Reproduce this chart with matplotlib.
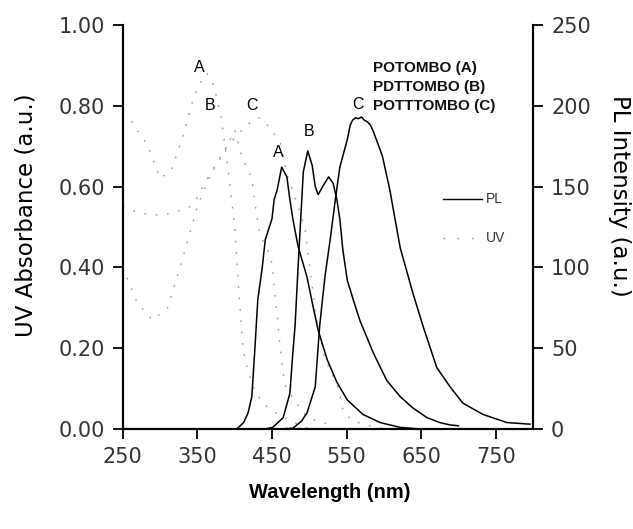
import matplotlib
matplotlib.use("Agg")
import matplotlib.pyplot as plt
from matplotlib.lines import Line2D

plt.rcParams["font.family"] = ["DejaVu Sans"]

# PL spectra (wavelength nm, intensity a.u.)
pl_a_wl = [400, 404, 412, 418, 423, 427, 431, 437, 441, 450, 453, 457, 463, 470, 474, 478,
           485, 497, 505, 512, 524, 537, 551, 572, 595, 622, 650]
pl_a = [0, 0.5, 4, 10, 20, 49, 80, 100, 117, 130, 142, 148, 162, 156, 142, 130,
        113, 94, 76, 61, 43, 29, 18, 9, 4, 1, 0]

pl_b_wl = [440, 451, 465, 474, 478, 481, 485, 490, 492, 498, 504, 508, 512, 518, 526, 532,
           537, 541, 545, 551, 559, 568, 586, 604, 622, 639, 658, 675, 689, 700]
pl_b = [0, 1, 7, 22, 47, 64, 100, 142, 159, 172, 163, 150, 145, 150, 156, 152,
        142, 130, 111, 92, 80, 67, 47, 30, 20, 13, 7, 4, 2.5, 2]

pl_c_wl = [460, 478, 490, 497, 508, 514, 521, 528, 535, 541, 551, 555, 558, 562, 566, 570,
           574, 578, 582, 586, 598, 608, 622, 639, 653, 671, 689, 706, 733, 765, 796]
pl_c = [0, 0.5, 5, 10, 26, 64, 94, 117, 142, 162, 179, 188, 191, 192.5, 192, 193,
        191, 190, 188, 184, 169, 148, 112, 84, 63, 38, 26, 16, 9, 4, 3]

# UV absorbance (wavelength nm, absorbance a.u.)
uv_a_wl = [250, 262, 284, 300, 315, 330, 345, 355, 363, 372, 382, 392, 400, 405, 411,
           418, 428, 440, 455, 475, 500]
uv_a = [0.78, 0.76, 0.70, 0.62, 0.64, 0.72, 0.82, 0.86, 0.88, 0.85, 0.77, 0.63, 0.50, 0.36, 0.20,
        0.14, 0.09, 0.06, 0.04, 0.02, 0.0]

uv_b_wl = [250, 265, 285, 305, 325, 340, 349, 360, 371, 378, 387, 400, 410, 416, 423, 427,
           434, 445, 450, 457, 461, 467, 477, 488, 497, 510, 530]
uv_b = [0.55, 0.54, 0.53, 0.53, 0.54, 0.55, 0.57, 0.61, 0.64, 0.66, 0.69, 0.74, 0.67, 0.65, 0.62, 0.56,
        0.48, 0.44, 0.41, 0.28, 0.20, 0.11, 0.08, 0.05, 0.03, 0.02, 0.01]

uv_c_wl = [250, 270, 290, 310, 330, 350, 370, 390, 410, 425, 434, 445, 461, 470, 478, 487,
           494, 498, 503, 508, 520, 539, 546, 559, 575, 600]
uv_c = [0.40, 0.31, 0.27, 0.30, 0.42, 0.55, 0.64, 0.70, 0.74, 0.765, 0.77, 0.75, 0.71, 0.63, 0.59, 0.54,
        0.50, 0.44, 0.37, 0.29, 0.18, 0.10, 0.04, 0.02, 0.01, 0.0]

x_ticks = [250, 350, 450, 550, 650, 750]
uv_ticks = [0.0, 0.2, 0.4, 0.6, 0.8, 1.0]
pl_ticks = [0, 50, 100, 150, 200, 250]
names = ["POTOMBO (A)", "PDTTOMBO (B)", "POTTTOMBO (C)"]

tick_col = "#333333"
uv_col = "#9a9a9a"
dot_style = (0, (1.2, 7))

fig = plt.figure(figsize=(6.33, 5.29), dpi=100)
ax = fig.add_axes([0.194, 0.189, 0.648, 0.764])
ax2 = ax.twinx()

for wl, v in [(uv_a_wl, uv_a), (uv_b_wl, uv_b), (uv_c_wl, uv_c)]:
    ax.plot(wl, v, color=uv_col, lw=1.0, linestyle=dot_style)
for wl, v in [(pl_a_wl, pl_a), (pl_b_wl, pl_b), (pl_c_wl, pl_c)]:
    ax2.plot(wl, v, color="black", lw=1.1)

ax.set_xlim(250, 800)
ax.set_ylim(0, 1)
ax2.set_ylim(0, 250)
ax.set_xticks(x_ticks)
ax.set_yticks(uv_ticks)
ax.set_yticklabels([f"{t:.2f}" for t in uv_ticks])
ax2.set_yticks(pl_ticks)

for a in (ax, ax2):
    for s in a.spines.values():
        s.set_linewidth(1.5)
    a.spines["top"].set_visible(False)
    a.tick_params(direction="out", length=7, width=1.3, labelsize=15,
                  labelcolor=tick_col)
ax.tick_params(axis="x", pad=6)
ax.tick_params(axis="y", pad=6)
ax2.tick_params(axis="y", pad=6)

# axis titles placed in figure pixels
fig.text(330 / 633, 1 - 492 / 529, "Wavelength (nm)", fontsize=14.5, fontweight="bold",
         family="Liberation Sans", ha="center", va="center")
fig.text(26 / 633, 1 - 215 / 529, "UV Absorbance (a.u.)", fontsize=16.5,
         rotation=90, ha="center", va="center")
fig.text(619 / 633, 1 - 196 / 529, "PL Intensity (a.u.)", fontsize=16.5,
         rotation=270, ha="center", va="center")

# curve labels
for lab, x, y in [("A", 353, 0.894), ("B", 367, 0.80), ("C", 423, 0.80)]:
    ax.text(x, y, lab, fontsize=11.5, family="Liberation Sans", ha="center", va="center")
for lab, x, y in [("A", 459, 171), ("B", 500, 184), ("C", 565, 201)]:
    ax2.text(x, y, lab, fontsize=11.5, family="Liberation Sans", ha="center", va="center")

for i, n in enumerate(names):
    ax.text(0.61, 0.894 - i * 0.047, n, transform=ax.transAxes, fontsize=11,
            family="Liberation Sans", fontweight="bold", color="#111111", va="center")

# key for line styles
ax.add_line(Line2D([0.78, 0.875], [0.569, 0.569], transform=ax.transAxes,
                   color="black", lw=1.0))
ax.text(0.885, 0.569, "PL", transform=ax.transAxes, fontsize=10,
        family="Liberation Sans", color="#333333", va="center")
ax.add_line(Line2D([0.78, 0.875], [0.473, 0.473], transform=ax.transAxes,
                   color=uv_col, lw=1.0, linestyle=(0, (1.2, 9))))
ax.text(0.885, 0.473, "UV", transform=ax.transAxes, fontsize=10,
        family="Liberation Sans", color="#333333", va="center")

fig.savefig("out.png", dpi=100)
